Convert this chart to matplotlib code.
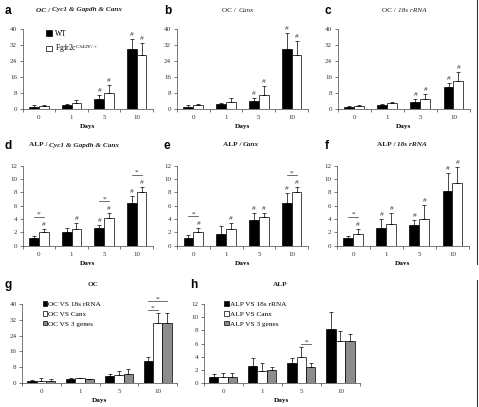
import matplotlib
matplotlib.use("Agg")
import matplotlib.pyplot as plt
import numpy as np
from matplotlib.patches import Patch, Rectangle
from matplotlib.lines import Line2D
from matplotlib.offsetbox import TextArea, HPacker, AnchoredOffsetbox

plt.rcParams['font.family'] = ['Liberation Serif', 'DejaVu Serif']
plt.rcParams['mathtext.fontset'] = 'custom'
plt.rcParams['mathtext.rm'] = 'Liberation Serif'
plt.rcParams['mathtext.it'] = 'Liberation Serif:italic'
plt.rcParams['mathtext.bf'] = 'Liberation Serif:bold'

# ---------------- data ----------------
days = ['0', '1', '5', '10']

a_wt = [1.2, 2.2, 5.0, 30.2];   a_wt_err = [0.8, 0.5, 1.8, 4.7]
a_mut = [1.4, 2.8, 8.0, 27.2];  a_mut_err = [0.6, 1.9, 4.0, 5.8]
a_wt_sig = [0, 0, 1, 1];        a_mut_sig = [0, 0, 1, 1]

b_wt = [1.0, 2.5, 4.0, 30.0];   b_wt_err = [1.0, 0.7, 1.5, 8.0]
b_mut = [2.0, 3.5, 7.2, 27.2];  b_mut_err = [0.5, 2.2, 4.5, 7.0]
b_wt_sig = [0, 0, 1, 1];        b_mut_sig = [0, 0, 1, 1]

c_wt = [1.0, 2.2, 3.7, 10.8];   c_wt_err = [0.5, 0.5, 1.3, 2.2]
c_mut = [1.5, 3.0, 4.8, 13.8];  c_mut_err = [0.3, 0.5, 2.5, 4.5]
c_wt_sig = [0, 0, 1, 1];        c_mut_sig = [0, 0, 1, 1]

d_wt = [1.1, 2.05, 2.6, 6.45];  d_wt_err = [0.4, 0.55, 0.5, 1.0]
d_mut = [2.1, 2.45, 4.2, 8.0];  d_mut_err = [0.4, 0.9, 0.65, 0.85]
d_wt_sig = [0, 0, 1, 1];        d_mut_sig = [1, 1, 1, 1]
d_star_days = [0, 2, 3]

e_wt = [1.1, 1.75, 3.85, 6.45]; e_wt_err = [0.5, 1.2, 1.0, 1.5]
e_mut = [2.1, 2.45, 4.25, 8.0]; e_mut_err = [0.5, 0.9, 0.6, 0.75]
e_wt_sig = [0, 0, 1, 1];        e_mut_sig = [1, 1, 1, 1]
e_star_days = [0, 3]

f_wt = [1.1, 2.7, 3.1, 8.2];    f_wt_err = [0.35, 1.25, 0.75, 2.75]
f_mut = [1.7, 3.2, 4.0, 9.35];  f_mut_err = [0.85, 1.75, 2.1, 2.4]
f_wt_sig = [0, 1, 1, 1];        f_mut_sig = [1, 1, 1, 1]
f_star_days = [0]

g_18s = [1.0, 2.2, 3.5, 11.0];   g_18s_err = [0.7, 0.3, 1.1, 2.2]
g_canx = [1.0, 2.4, 4.0, 30.4];  g_canx_err = [1.4, 0.3, 2.2, 5.0]
g_3g = [1.0, 1.9, 4.7, 30.4];    g_3g_err = [1.0, 0.3, 2.4, 5.0]
g_stars = [(3, 0, 1), (3, 0, 2)]

h_18s = [0.95, 2.65, 3.1, 8.2];  h_18s_err = [0.45, 1.2, 0.7, 2.6]
h_canx = [0.95, 1.8, 3.9, 6.45]; h_canx_err = [0.55, 1.25, 1.55, 1.5]
h_3g = [0.95, 2.0, 2.5, 6.45];   h_3g_err = [0.55, 0.45, 0.55, 1.05]
h_stars = [(2, 1, 2)]

legend_ab = ['WT', r'Fgfr2c$^{\mathrm{C342Y/+}}$']
legend_g = ['OC VS 18s rRNA', 'OC VS Canx', 'OC VS 3 genes']
legend_h = ['ALP VS 18s rRNA', 'ALP VS Canx', 'ALP VS 3 genes']

# ---------------- layout ----------------
W, H = 479, 407
fig = plt.figure(figsize=(W / 100, H / 100), dpi=100)


def rect(x0, x1, yt, yb):
    return [x0 / W, 1 - yb / H, (x1 - x0) / W, (yb - yt) / H]


TICK_FS = 5.0
COLORS2 = ['black', 'white']
COLORS3 = ['black', 'white', '#8c8c8c']


def style_axes(ax, ymax, yticks):
    ax.set_xlim(-0.5, 3.5)
    ax.set_ylim(0, ymax)
    for s in ['top', 'right']:
        ax.spines[s].set_visible(False)
    for s in ['left', 'bottom']:
        ax.spines[s].set_linewidth(0.5)
        ax.spines[s].set_color('#444444')
    ax.set_yticks(yticks)
    ax.set_yticklabels([str(t) for t in yticks])
    ax.tick_params(axis='y', direction='out', length=2, width=0.5,
                   labelsize=TICK_FS, pad=2, colors='#444444', labelcolor='#333333')
    ax.set_xticks([-0.5, 0.5, 1.5, 2.5, 3.5])
    ax.set_xticklabels([])
    ax.tick_params(axis='x', which='major', direction='out', length=2, width=0.5,
                   colors='#444444')
    ax.set_xticks(range(len(days)), minor=True)
    ax.set_xticklabels(days, minor=True)
    ax.tick_params(axis='x', which='minor', length=0, labelsize=TICK_FS, pad=4.5,
                   labelcolor='#333333')
    ax.set_xlabel('Days', fontsize=5.2, fontweight='bold', labelpad=3)


def draw_bars(ax, series, errs, colors, width, offsets, sigs=None):
    x = np.arange(len(days))
    tops = []
    for k, (vals, err, col, off) in enumerate(zip(series, errs, colors, offsets)):
        vals = np.asarray(vals); err = np.asarray(err)
        ax.bar(x + off, vals, width, color=col, edgecolor='black', linewidth=0.5,
               zorder=2)
        ax.errorbar(x + off, vals, yerr=[np.zeros_like(err), err], fmt='none',
                    ecolor='black', elinewidth=0.5, capsize=1.2, capthick=0.5,
                    zorder=3)
        tops.append(vals + err)
        if sigs is not None:
            for i, s in enumerate(sigs[k]):
                if s:
                    ax.annotate('#', (x[i] + off, vals[i] + err[i]),
                                xytext=(0, 1.5), textcoords='offset points',
                                ha='center', va='bottom', fontsize=5.4,
                                color='#333333')
    return np.array(tops)


def bracket(ax, x1, x2, y):
    ax.plot([x1, x2], [y, y], color='#333333', lw=0.5, zorder=3, clip_on=False)
    ax.text((x1 + x2) / 2, y, '*', ha='center', va='bottom', fontsize=5.4,
            color='#333333', clip_on=False)


def two_panel(pos, wt, wt_err, mut, mut_err, wt_sig, mut_sig, ymax, yticks,
              star_days=(), legend=False):
    ax = fig.add_axes(pos)
    style_axes(ax, ymax, yticks)
    w = 0.3
    offs = [-0.15, 0.15]
    tops = draw_bars(ax, [wt, mut], [wt_err, mut_err], COLORS2, w, offs,
                     [wt_sig, mut_sig])
    for d in star_days:
        y = tops[:, d].max() + 0.15 * ymax
        bracket(ax, d + offs[0], d + offs[1], y)
    if legend:
        handles = [Patch(facecolor=c, edgecolor='black', linewidth=0.5)
                   for c in COLORS2]
        ax.legend(handles, legend_ab, loc='upper left', bbox_to_anchor=(0.14, 1.06),
                  frameon=False, fontsize=5.5, handlelength=0.7, handleheight=0.7,
                  handletextpad=0.5, labelspacing=0.6, borderpad=0.2)
    return ax


def three_panel(pos, s, e, labels, ymax, yticks, stars):
    ax = fig.add_axes(pos)
    style_axes(ax, ymax, yticks)
    w = 0.24
    offs = [-0.24, 0.0, 0.24]
    tops = draw_bars(ax, s, e, COLORS3, w, offs)
    level = {}
    for d, i, j in stars:
        base = max(tops[i:j + 1, d].max(), level.get(d, 0))
        y = base + 0.035 * ymax
        bracket(ax, d + offs[i], d + offs[j], y)
        level[d] = y + 0.08 * ymax
    handles = [Patch(facecolor=c, edgecolor='black', linewidth=0.5) for c in COLORS3]
    ax.legend(handles, labels, loc='upper left', bbox_to_anchor=(0.1, 1.1),
              frameon=False, fontsize=5.2, handlelength=0.6, handleheight=0.6,
              handletextpad=0.2, labelspacing=0.55, borderpad=0.2)
    return ax


yt40 = [0, 8, 16, 24, 32, 40]
yt12 = [0, 2, 4, 6, 8, 10, 12]

two_panel(rect(22.7, 153, 29, 109), a_wt, a_wt_err, a_mut, a_mut_err,
          a_wt_sig, a_mut_sig, 40, yt40, legend=True)
two_panel(rect(176.7, 308, 29, 109), b_wt, b_wt_err, b_mut, b_mut_err,
          b_wt_sig, b_mut_sig, 40, yt40)
two_panel(rect(337.7, 470, 29, 109), c_wt, c_wt_err, c_mut, c_mut_err,
          c_wt_sig, c_mut_sig, 40, yt40)

two_panel(rect(22.7, 153, 165.7, 245.7), d_wt, d_wt_err, d_mut, d_mut_err,
          d_wt_sig, d_mut_sig, 12, yt12, d_star_days)
two_panel(rect(177, 308, 165.7, 245.7), e_wt, e_wt_err, e_mut, e_mut_err,
          e_wt_sig, e_mut_sig, 12, yt12, e_star_days)
two_panel(rect(336.7, 469, 165.7, 245.7), f_wt, f_wt_err, f_mut, f_mut_err,
          f_wt_sig, f_mut_sig, 12, yt12, f_star_days)

three_panel(rect(22, 177, 304, 383), [g_18s, g_canx, g_3g],
            [g_18s_err, g_canx_err, g_3g_err], legend_g, 40, yt40, g_stars)
three_panel(rect(203.5, 360, 304, 383), [h_18s, h_canx, h_3g],
            [h_18s_err, h_canx_err, h_3g_err], legend_h, 12, yt12, h_stars)

# cover the partially hidden "Days" of the middle row (composite cut)
fig.add_artist(Rectangle((0, 1 - 280 / H), 1, 15 / H, transform=fig.transFigure,
                         facecolor='white', edgecolor='none', zorder=5))

# titles: list of (x, y, [(text, weight, style), ...])
TF = 5.2
titles = [
    (79, 10, [('OC / ', 'bold', 'italic'), ('Cyc1 & Gapdh & Canx', 'bold', 'italic')]),
    (238, 10, [('OC / ', 'normal', 'normal'), ('Canx', 'normal', 'italic')]),
    (404, 10, [('OC / ', 'normal', 'normal'), ('18s rRNA', 'normal', 'italic')]),
    (74, 145, [('ALP / ', 'bold', 'normal'), ('Cyc1 & Gapdh & Canx', 'bold', 'italic')]),
    (241, 145, [('ALP / ', 'bold', 'normal'), ('Canx', 'bold', 'italic')]),
    (402, 145, [('ALP / ', 'bold', 'normal'), ('18s rRNA', 'bold', 'italic')]),
    (93, 285, [('OC', 'bold', 'normal')]),
    (280, 285, [('ALP', 'bold', 'normal')]),
]
for x, y, parts in titles:
    children = [TextArea(t.replace(' ', '\u00a0'),
                         textprops=dict(fontsize=TF, fontweight=wt, fontstyle=st,
                                        color='#222222'))
                for t, wt, st in parts]
    box = HPacker(children=children, align='baseline', pad=0, sep=0)
    ab = AnchoredOffsetbox(loc='center', child=box, pad=0, borderpad=0,
                           frameon=False, bbox_to_anchor=(x / W, 1 - y / H),
                           bbox_transform=fig.transFigure)
    ab.set_zorder(6)
    fig.add_artist(ab)

# panel letters
letters = [(8, 11, 'a'), (168, 11, 'b'), (328, 11, 'c'),
           (8, 146, 'd'), (167, 146, 'e'), (327, 146, 'f'),
           (8, 285, 'g'), (194, 285, 'h')]
for x, y, t in letters:
    fig.text(x / W, 1 - y / H, t, ha='center', va='center', fontsize=8.5,
             fontweight='bold', family='Liberation Sans', zorder=6)

# right border line of composite
fig.add_artist(Line2D([477 / W, 477 / W], [0, 1], transform=fig.transFigure,
                      color='#333333', lw=0.8))

fig.savefig('out.png', dpi=100)
